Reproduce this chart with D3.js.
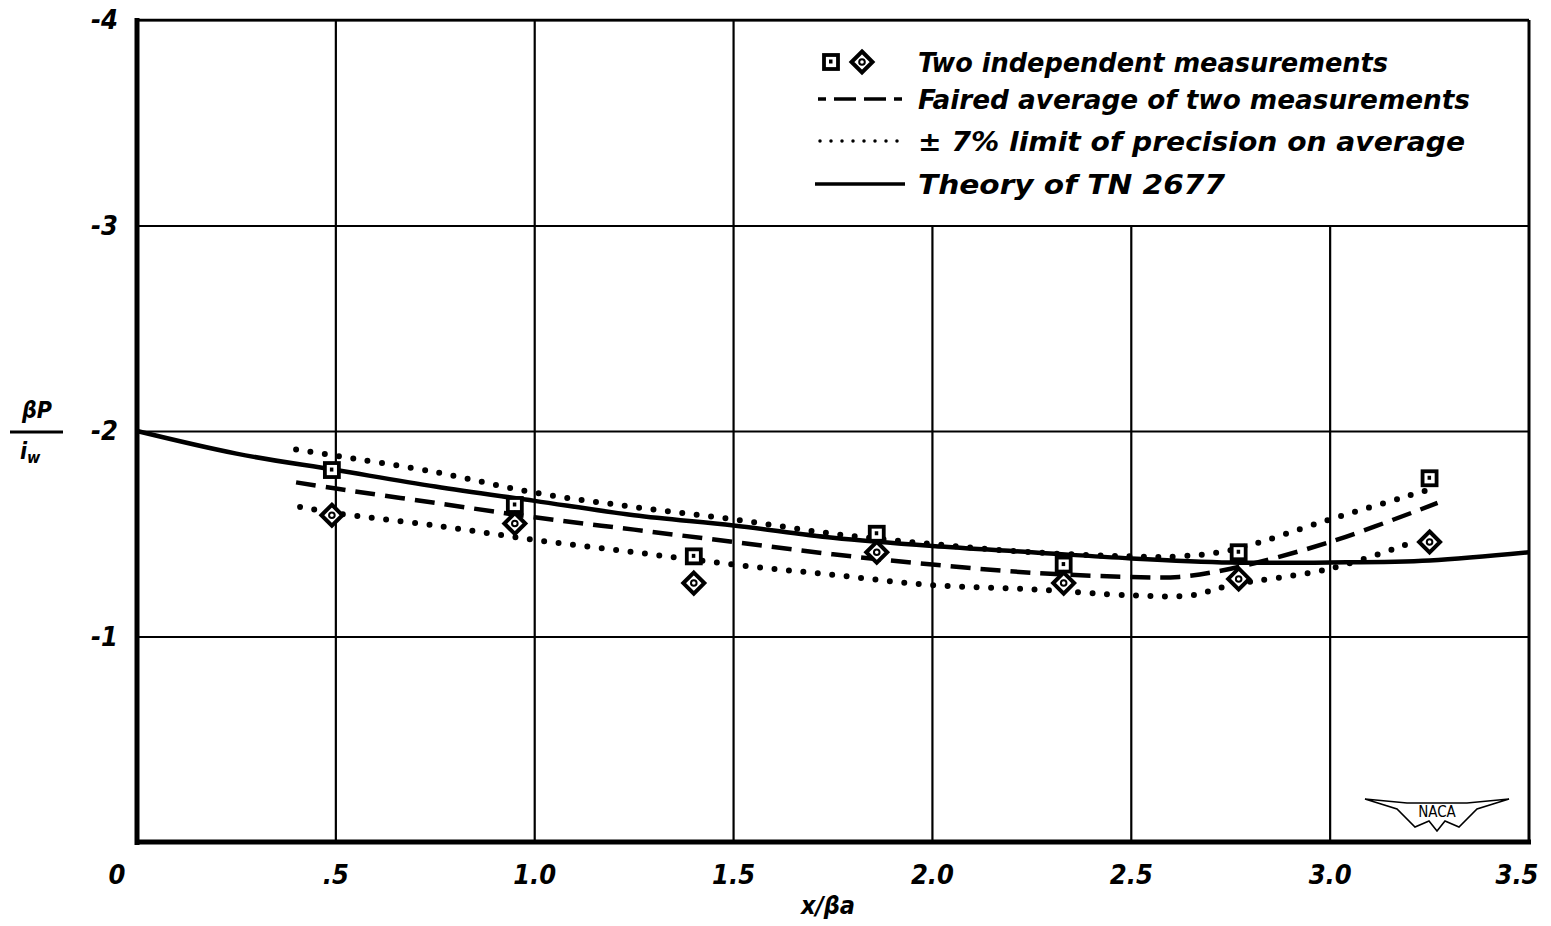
<!DOCTYPE html>
<html>
<head>
<meta charset="utf-8">
<script src="https://cdn.jsdelivr.net/npm/d3@7"></script>
<style>
  body { margin: 0; background: #fff; }
  svg text { font-family: "DejaVu Sans Condensed", "DejaVu Sans", sans-serif; font-weight: bold; font-style: italic; fill: #000; }
</style>
</head>
<body>
<div id="chart"></div>
<script>
// measured points, x/beta a
var pointX = [0.49, 0.95, 1.40, 1.86, 2.33, 2.77, 3.25];
var squareY = [-1.81, -1.64, -1.39, -1.50, -1.35, -1.41, -1.77];
var diamondY = [-1.59, -1.55, -1.26, -1.41, -1.26, -1.28, -1.46];

// faired average (dashed)
var fairX = [0.40, 0.50, 0.75, 1.00, 1.25, 1.50, 1.75, 2.00, 2.25, 2.50, 2.62, 2.75, 3.00, 3.27];
var fairY = [-1.75, -1.72, -1.65, -1.58, -1.52, -1.46, -1.40, -1.35, -1.31, -1.29, -1.29, -1.33, -1.46, -1.65];

// +/- 7% limits (dotted)
var upperX = [0.40, 0.50, 0.75, 1.00, 1.25, 1.50, 1.75, 2.00, 2.25, 2.50, 2.62, 2.75, 3.00, 3.24];
var upperY = [-1.91, -1.88, -1.80, -1.70, -1.63, -1.57, -1.50, -1.45, -1.41, -1.39, -1.39, -1.42, -1.57, -1.71];
var lowerX = [0.41, 0.50, 0.75, 1.00, 1.25, 1.50, 1.75, 2.00, 2.25, 2.50, 2.65, 2.75, 3.00, 3.21];
var lowerY = [-1.63, -1.60, -1.54, -1.47, -1.41, -1.35, -1.30, -1.25, -1.23, -1.20, -1.20, -1.25, -1.33, -1.46];

// theory of TN 2677 (solid)
var theoryX = [0, 0.25, 0.50, 0.75, 1.00, 1.25, 1.50, 1.75, 2.00, 2.25, 2.50, 2.75, 3.00, 3.25, 3.50];
var theoryY = [-2.00, -1.89, -1.81, -1.73, -1.66, -1.59, -1.54, -1.48, -1.44, -1.41, -1.38, -1.36, -1.36, -1.37, -1.41];

var xTicks = [0, 0.5, 1.0, 1.5, 2.0, 2.5, 3.0, 3.5];
var xTickLabels = ["0", ".5", "1.0", "1.5", "2.0", "2.5", "3.0", "3.5"];
var yTicks = [-4, -3, -2, -1];
var yTickLabels = ["-4", "-3", "-2", "-1"];

var legendLabels = ["Two independent measurements", "Faired average of two measurements",
                    "\u00b1 7% limit of precision on average", "Theory of  TN 2677"];

var W = 1551, H = 926;
var pLeft = 137, pRight = 1529, pTop = 20, pBottom = 842;

var svg = d3.select("#chart").append("svg")
    .attr("width", W)
    .attr("height", H);

var x = d3.scaleLinear().domain([0, 3.5]).range([pLeft, pRight]);
var y = d3.scaleLinear().domain([-4, 0]).range([pTop, pBottom]);

// grid: verticals right of 1.5 stop at -3 (legend box above)
svg.append("g").selectAll("line")
    .data(xTicks.filter(function(d) { return d > 0 && d < 3.5; }))
    .enter().append("line")
    .attr("x1", function(d) { return x(d); })
    .attr("x2", function(d) { return x(d); })
    .attr("y1", function(d) { return d > 1.5 ? y(-3) : pTop; })
    .attr("y2", pBottom)
    .attr("stroke", "#000").attr("stroke-width", 2.2);
svg.append("g")
    .attr("transform", "translate(" + pLeft + ",0)")
    .call(d3.axisLeft(y).tickValues(yTicks).tickSize(-(pRight - pLeft)).tickFormat(""))
    .call(function(g) {
        g.select(".domain").remove();
        g.selectAll(".tick line").attr("stroke", "#000").attr("stroke-width", 2.2);
    });

// frame
svg.append("line").attr("x1", pRight).attr("x2", pRight).attr("y1", pTop).attr("y2", pBottom)
    .attr("stroke", "#000").attr("stroke-width", 3);
svg.append("line").attr("x1", pLeft).attr("x2", pRight).attr("y1", pTop).attr("y2", pTop)
    .attr("stroke", "#000").attr("stroke-width", 2.5);
svg.append("line").attr("x1", pLeft).attr("x2", pLeft).attr("y1", pTop - 2).attr("y2", pBottom + 3)
    .attr("stroke", "#000").attr("stroke-width", 5);
svg.append("line").attr("x1", pLeft - 2).attr("x2", pRight + 2).attr("y1", pBottom).attr("y2", pBottom)
    .attr("stroke", "#000").attr("stroke-width", 5);

// tick labels
svg.selectAll(".xl").data(xTicks).enter().append("text")
    .attr("class", "xl")
    .attr("x", function(d, i) { return i == 0 ? x(d) - 20 : (i == xTicks.length - 1 ? x(d) - 12 : x(d)); })
    .attr("y", 884)
    .attr("text-anchor", "middle")
    .style("font-size", "27px")
    .text(function(d, i) { return xTickLabels[i]; });

svg.selectAll(".yl").data(yTicks).enter().append("text")
    .attr("class", "yl")
    .attr("x", 118)
    .attr("y", function(d) { return y(d) + 9; })
    .attr("text-anchor", "end")
    .style("font-size", "27px")
    .text(function(d, i) { return yTickLabels[i]; });

// axis titles
svg.append("text").attr("x", 828).attr("y", 914).attr("text-anchor", "middle")
    .style("font-size", "25px").text("x/\u03b2a");
svg.append("text").attr("x", 37).attr("y", 418).attr("text-anchor", "middle")
    .style("font-size", "23px").text("\u03b2P");
svg.append("line").attr("x1", 10).attr("x2", 63).attr("y1", 432).attr("y2", 432)
    .attr("stroke", "#000").attr("stroke-width", 3);
var iw = svg.append("text").attr("x", 20).attr("y", 459).style("font-size", "23px");
iw.append("tspan").text("i");
iw.append("tspan").attr("dy", 4).style("font-size", "16px").text("w");

// curves
var line = d3.line()
    .x(function(d) { return x(d[0]); })
    .y(function(d) { return y(d[1]); })
    .curve(d3.curveCatmullRom);

function pairs(xs, ys) { return xs.map(function(v, i) { return [v, ys[i]]; }); }

svg.append("path").datum(pairs(theoryX, theoryY))
    .attr("d", line).attr("fill", "none").attr("stroke", "#000").attr("stroke-width", 4.5);
svg.append("path").datum(pairs(fairX, fairY))
    .attr("d", line).attr("fill", "none").attr("stroke", "#000").attr("stroke-width", 4.5)
    .attr("stroke-dasharray", "20 10");
[pairs(upperX, upperY), pairs(lowerX, lowerY)].forEach(function(p) {
    svg.append("path").datum(p)
        .attr("d", line).attr("fill", "none").attr("stroke", "#000").attr("stroke-width", 6)
        .attr("stroke-linecap", "round").attr("stroke-dasharray", "0 14.5");
});

// markers
function drawSquare(g, cx, cy) {
    g.append("rect").attr("x", cx - 7).attr("y", cy - 7).attr("width", 14).attr("height", 14)
        .attr("fill", "#fff").attr("stroke", "#000").attr("stroke-width", 3.8);
    g.append("rect").attr("x", cx - 2).attr("y", cy - 2.5).attr("width", 3.5).attr("height", 4)
        .attr("fill", "#000");
}
function drawDiamond(g, cx, cy) {
    var r = 10.5;
    g.append("path").attr("d", "M" + cx + "," + (cy - r) + "L" + (cx + r) + "," + cy + "L" + cx + "," + (cy + r) + "L" + (cx - r) + "," + cy + "Z")
        .attr("fill", "#fff").attr("stroke", "#000").attr("stroke-width", 4);
    g.append("circle").attr("cx", cx).attr("cy", cy).attr("r", 2.8)
        .attr("fill", "none").attr("stroke", "#000").attr("stroke-width", 2);
}
var marks = svg.append("g");
pointX.forEach(function(v, i) {
    drawSquare(marks, x(v), y(squareY[i]));
    drawDiamond(marks, x(v), y(diamondY[i]));
});

// legend
var lg = svg.append("g");
var rowY = [62, 99, 141, 184];
drawSquare(lg, 831, rowY[0]);
drawDiamond(lg, 862, rowY[0]);
lg.append("line").attr("x1", 818).attr("x2", 905).attr("y1", rowY[1]).attr("y2", rowY[1])
    .attr("stroke", "#000").attr("stroke-width", 3.5).attr("stroke-dasharray", "8 8 22 8 22 8");
lg.append("line").attr("x1", 820).attr("x2", 905).attr("y1", rowY[2]).attr("y2", rowY[2])
    .attr("stroke", "#000").attr("stroke-width", 3.5).attr("stroke-linecap", "round")
    .attr("stroke-dasharray", "0 11");
lg.append("line").attr("x1", 815).attr("x2", 905).attr("y1", rowY[3]).attr("y2", rowY[3])
    .attr("stroke", "#000").attr("stroke-width", 3.5);
var textW = [470, 552, 547, 307];
legendLabels.forEach(function(t, i) {
    lg.append("text").attr("x", 918).attr("y", rowY[i] + 10)
        .style("font-size", "27px")
        .attr("textLength", textW[i]).attr("lengthAdjust", "spacingAndGlyphs")
        .text(t);
});

// NACA emblem
var logo = svg.append("g").attr("transform", "translate(1437,813)");
logo.append("path")
    .attr("d", "M-72,-14 L-30,-10 L30,-10 L72,-14 L40,-4 L22,14 L8,8 L0,18 L-8,8 L-22,14 L-40,-4 Z")
    .attr("fill", "#fff").attr("stroke", "#000").attr("stroke-width", 1.6);
logo.append("text").attr("x", 0).attr("y", 4).attr("text-anchor", "middle")
    .style("font-size", "15px").style("font-style", "normal").style("font-weight", "normal")
    .text("NACA");
</script>
</body>
</html>
